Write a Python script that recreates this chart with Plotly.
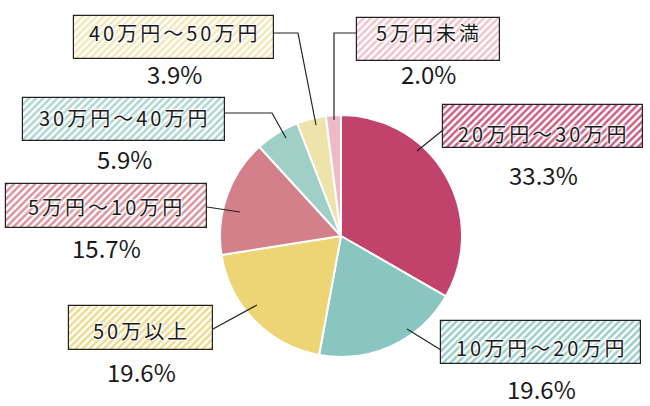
import plotly.graph_objects as go

# data (clockwise from 12 o'clock)
labels = ['20万円～30万円', '10万円～20万円', '50万以上', '5万円～10万円',
          '30万円～40万円', '40万円～50万円', '5万円未満']
values = [33.3, 19.6, 19.6, 15.7, 5.9, 3.9, 2.0]
colors = ['#C1436B', '#88C6BF', '#EDD475', '#D4808B', '#9FCFC7', '#EFE3AC', '#EFB8C5']

# label boxes in pixel coords: x0, x1, y0, y1 (y from top)
boxes = [(443, 643, 112, 155), (441, 641, 326, 369), (69, 213, 308, 352),
         (6, 207, 184, 228), (23, 225, 96, 139), (74, 274, 11, 54), (357, 500, 11, 54)]
# leader line paths (pixel coords)
leaders = [[(443, 130), (417, 151)],
           [(441, 350), (407, 329)],
           [(213, 329), (257, 305)],
           [(207, 207), (240, 212)],
           [(225, 113), (272, 113), (286, 138)],
           [(274, 33), (298, 33), (316, 125)],
           [(357, 33), (334, 33), (334, 120)]]

W, H = 650, 406
cx, cy, r = 341, 236, 121

fig = go.Figure()

# hatched label boxes drawn as horizontal bars with a pattern
for (x0, x1, y0, y1), c in zip(boxes, colors):
    fig.add_trace(go.Bar(orientation='h', y=[(y0 + y1) / 2], x=[x1 - x0], base=[x0], width=[y1 - y0],
                         marker=dict(color='white', line=dict(color='#222222', width=1.2),
                                     pattern=dict(shape='/', fgcolor=c, bgcolor='white', size=5, solidity=0.5,
                                                  fillmode='replace', fgopacity=0.85)),
                         showlegend=False, hoverinfo='skip'))

fig.add_trace(go.Pie(labels=labels, values=values, sort=False, direction='clockwise', rotation=0,
                     marker=dict(colors=colors, line=dict(color='white', width=2)),
                     textinfo='none', hoverinfo='label+percent', showlegend=False,
                     domain=dict(x=[(cx - r) / W, (cx + r) / W], y=[(H - cy - r) / H, (H - cy + r) / H])))

for path in leaders:
    d = 'M ' + ' L '.join(f'{x},{y}' for x, y in path)
    fig.add_shape(type='path', path=d, xref='x', yref='y', line=dict(color='#222222', width=1.2), layer='above')

halo = '0 0 2px white, 0 0 2px white, 0 0 3px white, 0 0 3px white'
for (x0, x1, y0, y1), lab, v in zip(boxes, labels, values):
    fig.add_annotation(x=(x0 + x1) / 2, y=(y0 + y1) / 2, xref='x', yref='y',
                       text=f'<span style="letter-spacing:3px">{lab}</span>', showarrow=False,
                       font=dict(family='Noto Sans CJK JP', size=20, color='#1a1a1a', shadow=halo))
    fig.add_annotation(x=(x0 + x1) / 2, y=y1 + 19, xref='x', yref='y', text=f'{v:.1f}%', showarrow=False,
                       font=dict(family='Noto Sans CJK JP', size=24, color='#1a1a1a'))

fig.update_layout(width=W, height=H, margin=dict(l=0, r=0, t=0, b=0),
                  paper_bgcolor='white', plot_bgcolor='white', bargap=0,
                  xaxis=dict(range=[0, W], visible=False, fixedrange=True),
                  yaxis=dict(range=[H, 0], visible=False, fixedrange=True))

# drop the page's default body margin so the figure sits at the window's corner
fig.write_html("out.html", config={'displayModeBar': False},
               post_script="document.body.style.margin='0';")
